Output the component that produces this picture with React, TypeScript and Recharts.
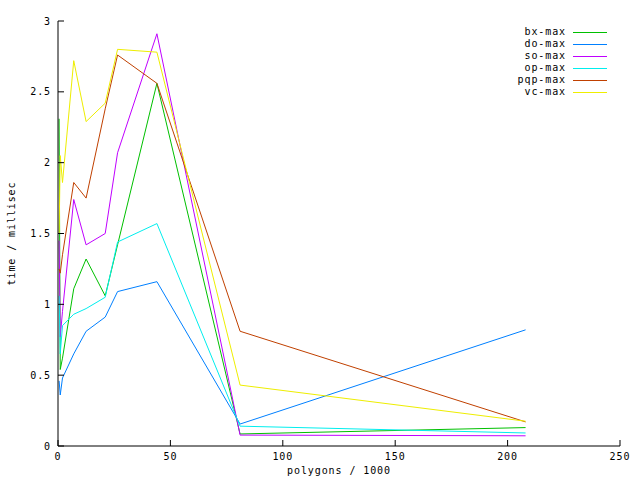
import React from "react"
import { LineChart, Line, XAxis, YAxis, Legend } from "recharts"

const polygons = [0.5, 1, 2, 7, 12.5, 21, 26.5, 44, 81, 208]
const bxMax = [2.31, 0.54, 0.62, 1.11, 1.32, 1.06, 1.42, 2.56, 0.085, 0.13]
const doMax = [0.46, 0.36, 0.48, 0.65, 0.81, 0.91, 1.09, 1.16, 0.155, 0.82]
const soMax = [1.45, 0.77, 0.95, 1.74, 1.42, 1.5, 2.07, 2.91, 0.077, 0.072]
const opMax = [1.06, 0.65, 0.85, 0.93, 0.97, 1.05, 1.44, 1.57, 0.14, 0.092]
const pqpMax = [1.25, 1.22, 1.35, 1.86, 1.75, 2.38, 2.76, 2.56, 0.81, 0.17]
const vcMax = [1.5, 2.05, 1.86, 2.72, 2.29, 2.42, 2.8, 2.78, 0.43, 0.175]

const xTicks = [0, 50, 100, 150, 200, 250]
const yTicks = [0, 0.5, 1, 1.5, 2, 2.5, 3]

const series = [
  { key: "bx-max", values: bxMax, color: "#00c000" },
  { key: "do-max", values: doMax, color: "#0080ff" },
  { key: "so-max", values: soMax, color: "#c000ff" },
  { key: "op-max", values: opMax, color: "#00eeee" },
  { key: "pqp-max", values: pqpMax, color: "#c04000" },
  { key: "vc-max", values: vcMax, color: "#eeee00" },
]

const data = polygons.map((x, i) => {
  const row: Record<string, number> = { x }
  series.forEach((s) => (row[s.key] = s.values[i]))
  return row
})

// gnuplot-ish small monospace text
const FONT = "'DejaVu Sans Mono', 'Liberation Mono', monospace"
const FS = 10
const LS = 0.9
const tickStyle = { fill: "#000", fontSize: FS, fontFamily: FONT, letterSpacing: LS }

function LegendBox() {
  return (
    <div style={{ fontFamily: FONT, fontSize: FS, letterSpacing: LS, color: "#000" }}>
      {series.map((s) => (
        <div key={s.key} style={{ height: 12, display: "flex", justifyContent: "flex-end", alignItems: "center" }}>
          <span style={{ lineHeight: "10px" }}>{s.key}</span>
          <span style={{ display: "inline-block", width: 34, height: 0, borderTop: `1px solid ${s.color}`, marginLeft: 7 }} />
        </div>
      ))}
    </div>
  )
}

export default function App() {
  return (
    <div style={{ position: "absolute", left: 0, top: 0, background: "#fff" }}>
      <LineChart width={640} height={480} data={data} margin={{ top: 21, right: 20, bottom: 0, left: 0 }}>
        <XAxis
          dataKey="x"
          type="number"
          domain={[0, 250]}
          ticks={xTicks}
          height={34}
          stroke="#000"
          tickSize={-6}
          tickMargin={13}
          tick={tickStyle}
          label={{
            content: ({ viewBox }: any) => (
              <text x={viewBox.x + viewBox.width / 2} y={viewBox.y + 28} textAnchor="middle" fontFamily={FONT} fontSize={FS} letterSpacing={LS} fill="#000">
                polygons / 1000
              </text>
            ),
          }}
        />
        <XAxis
          xAxisId="top"
          orientation="top"
          type="number"
          domain={[0, 250]}
          ticks={xTicks}
          height={0}
          stroke="#000"
          tickSize={-6}
          tick={false}
          label={{
            content: ({ viewBox }: any) => (
              <text x={viewBox.x + viewBox.width / 2} y={viewBox.y - 4} textAnchor="middle" fontFamily={FONT} fontSize={FS} letterSpacing={LS} fill="#000">
                schloss / 0.110000
              </text>
            ),
          }}
        />
        <YAxis
          type="number"
          domain={[0, 3]}
          ticks={yTicks}
          width={58}
          stroke="#000"
          tickSize={-6}
          tickMargin={13}
          tick={tickStyle}
          label={{
            content: ({ viewBox }: any) => {
              const cx = viewBox.x + 11
              const cy = viewBox.y + viewBox.height / 2
              return (
                <text x={cx} y={cy} transform={`rotate(-90 ${cx} ${cy})`} textAnchor="middle" dominantBaseline="central" fontFamily={FONT} fontSize={FS} letterSpacing={LS} fill="#000">
                  time / millisec
                </text>
              )
            },
          }}
        />
        <YAxis yAxisId="right" orientation="right" type="number" domain={[0, 3]} ticks={yTicks} width={0} stroke="#000" tickSize={-6} tick={false} />
        <Legend
          layout="vertical"
          align="center"
          verticalAlign="middle"
          content={<LegendBox />}
          wrapperStyle={{ top: 26, left: 460, width: 147, height: 72 }}
        />
        {series.map((s) => (
          <Line
            key={s.key}
            dataKey={s.key}
            name={s.key}
            type="linear"
            stroke={s.color}
            strokeWidth={1}
            dot={false}
            activeDot={false}
            isAnimationActive={false}
          />
        ))}
      </LineChart>
    </div>
  )
}
